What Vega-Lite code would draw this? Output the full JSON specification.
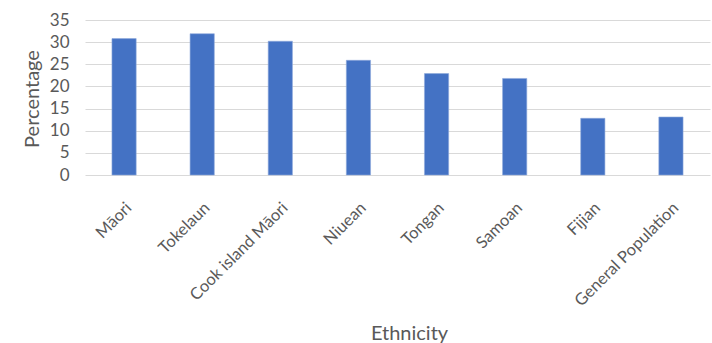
{
  "$schema": "https://vega.github.io/schema/vega-lite/v6.json",
  "autosize": "none",
  "width": 625,
  "height": 155,
  "padding": {"left": 85, "top": 20, "right": 2, "bottom": 168},
  "background": "white",
  "config": {
    "view": {"stroke": null},
    "font": "Lato",
    "axis": {"labelColor": "#595959", "titleColor": "#595959", "titleFontWeight": "normal"}
  },
  "data": {
    "values": [
      {"Ethnicity": "Māori", "Percentage": 30.8},
      {"Ethnicity": "Tokelaun", "Percentage": 31.9},
      {"Ethnicity": "Cook island Māori", "Percentage": 30.2},
      {"Ethnicity": "Niuean", "Percentage": 25.9},
      {"Ethnicity": "Tongan", "Percentage": 22.9},
      {"Ethnicity": "Samoan", "Percentage": 21.8},
      {"Ethnicity": "Fijian", "Percentage": 12.8},
      {"Ethnicity": "General Population", "Percentage": 13.1}
    ]
  },
  "mark": {"type": "bar", "color": "#4472C4", "stroke": "#8faadc", "strokeWidth": 0.6},
  "encoding": {
    "x": {
      "field": "Ethnicity",
      "type": "nominal",
      "sort": null,
      "scale": {"paddingInner": 0.69, "paddingOuter": 0.345},
      "axis": {
        "title": "Ethnicity",
        "titleFontSize": 20,
        "titleX": 324,
        "titleY": 158,
        "titleBaseline": "middle",
        "titleAnchor": null,
        "labelAngle": -45,
        "labelAlign": "right",
        "labelBaseline": "middle",
        "labelFontSize": 16.5,
        "labelPadding": 30,
        "labelOffset": 5,
        "ticks": false,
        "domain": false
      }
    },
    "y": {
      "field": "Percentage",
      "type": "quantitative",
      "scale": {"domain": [0, 35], "nice": false},
      "axis": {
        "title": "Percentage",
        "titleFontSize": 20,
        "titleX": -53,
        "titleY": 78.5,
        "titleAlign": "center",
        "titleBaseline": "middle",
        "values": [0, 5, 10, 15, 20, 25, 30, 35],
        "labelFontSize": 17,
        "labelPadding": 16,
        "ticks": false,
        "domain": false,
        "grid": true,
        "gridColor": "#d9d9d9",
        "gridWidth": 1
      }
    }
  }
}
